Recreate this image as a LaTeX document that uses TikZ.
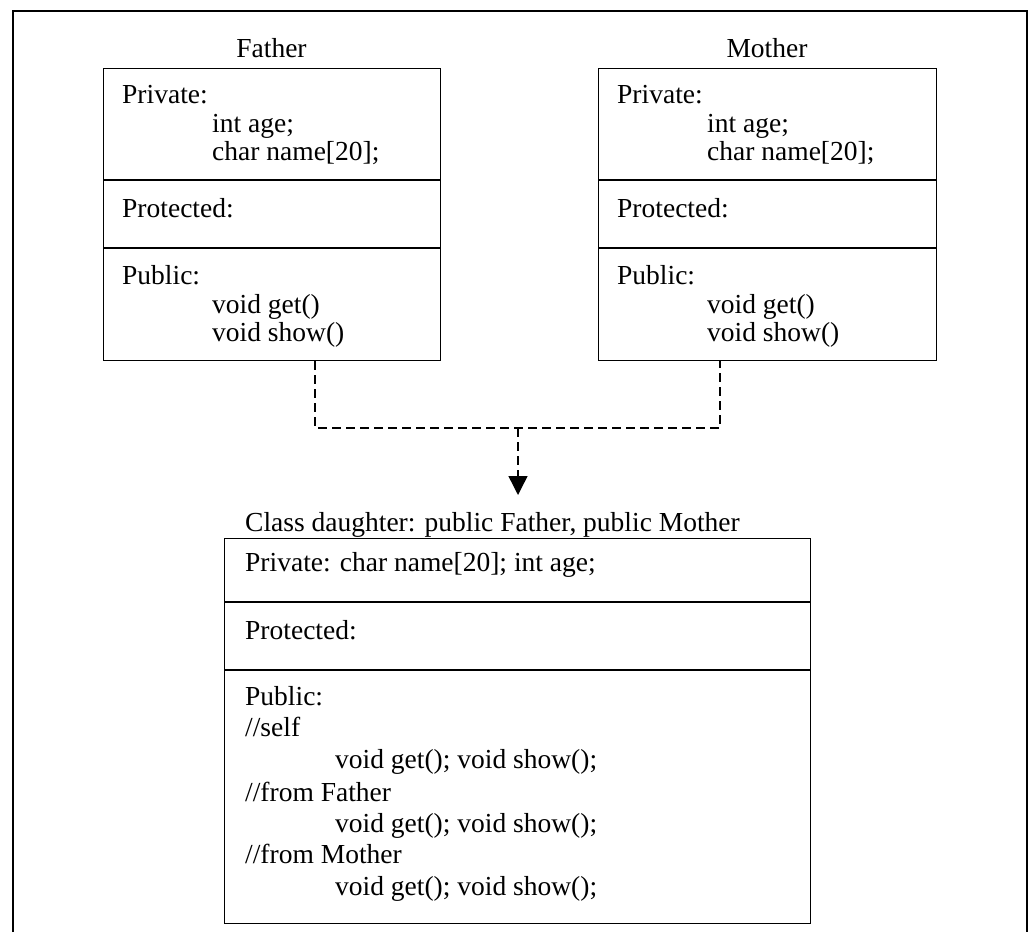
\documentclass[tikz,border=0pt]{standalone}
\usepackage{fontspec}
\setmainfont{Liberation Serif}
\usetikzlibrary{arrows.meta}
\begin{document}
\begin{tikzpicture}[x=1pt,y=-1pt,
  font=\fontsize{27.5}{31}\selectfont,
  txt/.style={anchor=base west, inner sep=0pt},
  lbl/.style={anchor=base, inner sep=0pt},
  cls/.style={draw, line width=1.4pt, rectangle, inner sep=0pt},
  sep/.style={line width=1.4pt},
  dashline/.style={line width=1.4pt, dash pattern=on 9pt off 5pt}]
\useasboundingbox (0,0) rectangle (1030,932);
\draw[line width=2pt] (13,932) -- (13,10.5) -- (1027,10.5) -- (1027,932);

% Father
\node[lbl] (flabel) at (271.5,57) {Father};
\node[cls, minimum width=337pt, minimum height=292pt, anchor=north west] (father) at (103,68) {};
\draw[sep] ([yshift=-112pt]father.north west) -- ([yshift=-112pt]father.north east);
\draw[sep] ([yshift=-180pt]father.north west) -- ([yshift=-180pt]father.north east);
\node[txt] (fp1) at (122,103.5) {Private:};
\node[txt] (fp2) at (212,132) {int age;};
\node[txt] (fp3) at (212,160) {char name[20];};
\node[txt] (fpr) at (122,217) {Protected:};
\node[txt] (fu1) at (122,284) {Public:};
\node[txt] (fu2) at (212,313) {void get()};
\node[txt] (fu3) at (212,341.5) {void show()};

% Mother
\node[lbl] (mlabel) at (767,57) {Mother};
\node[cls, minimum width=338pt, minimum height=292pt, anchor=north west] (mother) at (598,68) {};
\draw[sep] ([yshift=-112pt]mother.north west) -- ([yshift=-112pt]mother.north east);
\draw[sep] ([yshift=-180pt]mother.north west) -- ([yshift=-180pt]mother.north east);
\node[txt] (mp1) at (617,103.5) {Private:};
\node[txt] (mp2) at (707,132) {int age;};
\node[txt] (mp3) at (707,160) {char name[20];};
\node[txt] (mpr) at (617,217) {Protected:};
\node[txt] (mu1) at (617,284) {Public:};
\node[txt] (mu2) at (707,313) {void get()};
\node[txt] (mu3) at (707,341.5) {void show()};

% Daughter
\node[txt] (dtitle) at (245,531.7) {Class daughter: public Father, public Mother};
\node[cls, minimum width=586pt, minimum height=385pt, anchor=north west] (daughter) at (224,538) {};
\draw[sep] ([yshift=-64pt]daughter.north west) -- ([yshift=-64pt]daughter.north east);
\draw[sep] ([yshift=-132pt]daughter.north west) -- ([yshift=-132pt]daughter.north east);
\node[txt] (dp1) at (245,571.7) {Private: char name[20]; int age;};
\node[txt] (dpr) at (245,639) {Protected:};
\node[txt] (du1) at (245,705) {Public:};
\node[txt] (du2) at (245,736.7) {//self};
\node[txt] (du3) at (335,768) {void get(); void show();};
\node[txt] (du4) at (245,801.5) {//from Father};
\node[txt] (du5) at (335,832) {void get(); void show();};
\node[txt] (du6) at (245,863) {//from Mother};
\node[txt] (du7) at (335,895) {void get(); void show();};

% Connectors
\coordinate (fx) at (315,0);
\coordinate (mx) at (720,0);
\coordinate (jn) at (518,428);
\coordinate (tip) at (518,495);
\draw[dashline] (father.south -| fx) -- (fx |- jn) -- (mx |- jn) -- (mother.south -| mx);
\draw[dashline, -{Triangle[width=19pt,length=19pt]}] (jn) -- (tip);
\end{tikzpicture}
\end{document}
